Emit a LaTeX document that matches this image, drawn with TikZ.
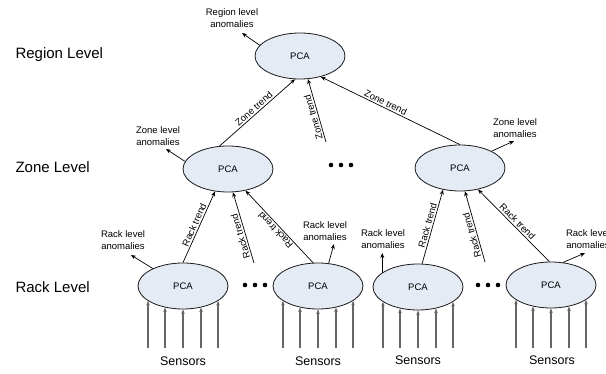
\documentclass[tikz,border=0pt]{standalone}
\usepackage{fontspec}
\setmainfont{Liberation Sans}
\usetikzlibrary{positioning,arrows.meta,calc,shapes.geometric}
\definecolor{PCAfill}{HTML}{E5EBF5}
\definecolor{PCAline}{HTML}{1A1A1A}
\definecolor{SensGray}{HTML}{666666}

\begin{document}
\begin{tikzpicture}[x=1pt,y=-1pt,
  pca/.style={ellipse, draw=PCAline, fill=PCAfill, line width=0.8pt, minimum width=90pt, minimum height=46pt, inner sep=0pt, font=\fontsize{9.5}{11}\selectfont},
  lvl/.style={anchor=west, font=\fontsize{15}{18}\selectfont},
  note/.style={align=center, inner sep=0pt, font=\fontsize{9.5}{11.5}\selectfont},
  trend/.style={-{Stealth[length=5pt,width=4pt]}, line width=0.7pt},
  sens/.style={-{Stealth[length=4.5pt,width=3.5pt]}, SensGray, line width=1.1pt},
  tlab/.style={sloped, above, inner sep=1.5pt, font=\fontsize{9.5}{11}\selectfont}]
\useasboundingbox (0,0) rectangle (606,374);

% levels
\node[lvl] (lvlRegion) at (12,55) {Region Level};
\node[lvl] (lvlZone) at (12,167) {Zone Level};
\node[lvl] (lvlRack) at (12,287) {Rack Level};

% PCA nodes
\node[pca] (region) at (300,56) {PCA};
\node[pca] (zoneL) at (228,169) {PCA};
\node[pca] (zoneR) at (460,168) {PCA};
\node[pca] (rackA) at (183,286) {PCA};
\node[pca] (rackB) at (318,286) {PCA};
\node[pca] (rackC) at (418,287) {PCA};
\node[pca] (rackD) at (551,285) {PCA};

% anomalies
\node[note] (anRegion) at (232,18) {Region level\\anomalies};
\node[note] (anZoneL) at (158,136) {Zone level\\anomalies};
\node[note] (anZoneR) at (515,128) {Zone level\\anomalies};
\node[note] (anRackA) at (123,240) {Rack level\\anomalies};
\node[note] (anRackB) at (325,231) {Rack level\\anomalies};
\node[note] (anRackC) at (383,239) {Rack level\\anomalies};
\node[note] (anRackD) at (588,239) {Rack level\\anomalies};

\coordinate (outRegion) at (242,33);
\coordinate (outZoneL) at (166,149);
\coordinate (outZoneR) at (514,141);
\coordinate (outRackA) at (131,255);
\coordinate (outRackB) at (334,244);
\coordinate (outRackD) at (585,253);
\draw[trend] (region.165) -- (outRegion);
\draw[trend] (zoneL.170) -- (outZoneL);
\draw[trend] (zoneR.28) -- (outZoneR);
\draw[trend] (rackA.150) -- (outRackA);
\draw[trend] (rackB.65) -- (outRackB);
\draw[trend] (rackC.158) -- (rackC.158 |- 0,253);
\draw[trend] (rackD.62) -- (outRackD);

% zone trends
\coordinate (zoneMid) at (326,142);
\draw[trend] (zoneL.110) -- node[tlab] {Zone trend} (region.-102);
\draw[trend] (zoneMid) -- node[tlab, pos=0.42, allow upside down] {Zone trend} (region.-71);
\draw[trend] (zoneR.north) -- node[tlab, pos=0.55] {Zone trend} (region.-45);

% rack trends
\coordinate (rackMidL) at (254,263);
\coordinate (rackMidR) at (485,262);
\draw[trend] (rackA.north) -- node[tlab] {Rack trend} (zoneL.-120);
\draw[trend] (rackMidL) -- node[tlab, pos=0.4, allow upside down] {Rack trend} (zoneL.-78);
\draw[trend] (rackB.102) -- node[tlab, allow upside down] {Rack trend} (zoneL.-51);
\draw[trend] (rackC.80) -- node[tlab] {Rack trend} (zoneR.-128);
\draw[trend] (rackMidR) -- node[tlab, pos=0.4, allow upside down] {Rack trend} (zoneR.-78);
\draw[trend] (rackD.94) -- node[tlab] {Rack trend} (zoneR.-50);

% sensors
\foreach \r/\x/\y in {rackA/183/361,rackB/318/361,rackC/418/360,rackD/552/360}{
  \node[font=\fontsize{12.5}{14}\selectfont] (sens\r) at (\x,\y) {Sensors};
  \foreach \a in {-157,-130,-90,-50,-23}
    \draw[sens] (\r.\a |- 0,348) -- (\r.\a);
}

% dots
\foreach \x/\y in {331/165,341/165,351/165,245/285,255/285,265/285,478/285,488/285,498/285}
  \fill (\x,\y) circle (2.3);
\end{tikzpicture}
\end{document}
